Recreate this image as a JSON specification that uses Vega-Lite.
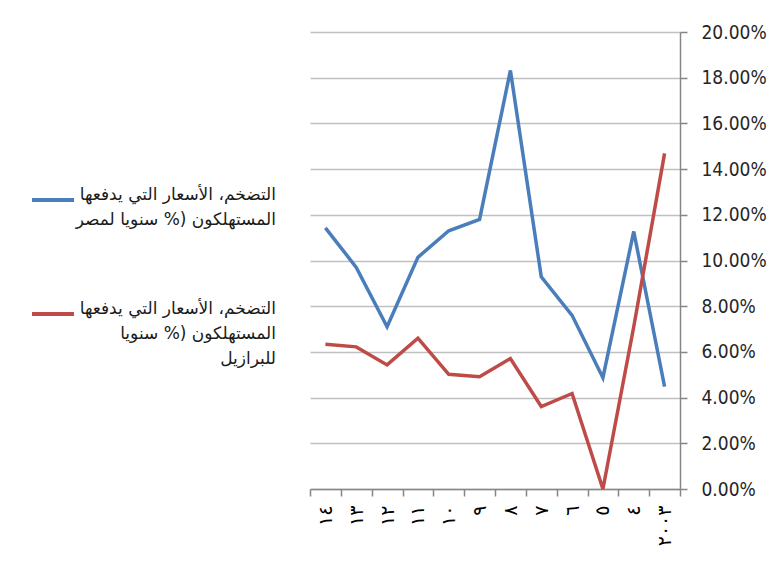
{
  "$schema": "https://vega.github.io/schema/vega-lite/v6.json",
  "width": 370,
  "height": 457,
  "autosize": {"type": "none"},
  "padding": {"left": 310, "top": 32, "right": 98, "bottom": 89},
  "background": "white",
  "config": {"view": {"stroke": null}, "style": {"guide-label": {"lineHeight": 25}}},
  "data": {
    "values": [
      {"year": "١٤", "series": "التضخم، الأسعار التي يدفعها|المستهلكون (% سنويا لمصر", "value": 0.1143},
      {"year": "١٣", "series": "التضخم، الأسعار التي يدفعها|المستهلكون (% سنويا لمصر", "value": 0.0970},
      {"year": "١٢", "series": "التضخم، الأسعار التي يدفعها|المستهلكون (% سنويا لمصر", "value": 0.0710},
      {"year": "١١", "series": "التضخم، الأسعار التي يدفعها|المستهلكون (% سنويا لمصر", "value": 0.1014},
      {"year": "١٠", "series": "التضخم، الأسعار التي يدفعها|المستهلكون (% سنويا لمصر", "value": 0.1130},
      {"year": "٩", "series": "التضخم، الأسعار التي يدفعها|المستهلكون (% سنويا لمصر", "value": 0.1180},
      {"year": "٨", "series": "التضخم، الأسعار التي يدفعها|المستهلكون (% سنويا لمصر", "value": 0.1832},
      {"year": "٧", "series": "التضخم، الأسعار التي يدفعها|المستهلكون (% سنويا لمصر", "value": 0.0929},
      {"year": "٦", "series": "التضخم، الأسعار التي يدفعها|المستهلكون (% سنويا لمصر", "value": 0.0760},
      {"year": "٥", "series": "التضخم، الأسعار التي يدفعها|المستهلكون (% سنويا لمصر", "value": 0.0487},
      {"year": "٤", "series": "التضخم، الأسعار التي يدفعها|المستهلكون (% سنويا لمصر", "value": 0.1127},
      {"year": "٢٠٠٣", "series": "التضخم، الأسعار التي يدفعها|المستهلكون (% سنويا لمصر", "value": 0.0448},
      {"year": "١٤", "series": "التضخم، الأسعار التي يدفعها|المستهلكون (% سنويا|للبرازيل", "value": 0.0633},
      {"year": "١٣", "series": "التضخم، الأسعار التي يدفعها|المستهلكون (% سنويا|للبرازيل", "value": 0.0622},
      {"year": "١٢", "series": "التضخم، الأسعار التي يدفعها|المستهلكون (% سنويا|للبرازيل", "value": 0.0543},
      {"year": "١١", "series": "التضخم، الأسعار التي يدفعها|المستهلكون (% سنويا|للبرازيل", "value": 0.0660},
      {"year": "١٠", "series": "التضخم، الأسعار التي يدفعها|المستهلكون (% سنويا|للبرازيل", "value": 0.0502},
      {"year": "٩", "series": "التضخم، الأسعار التي يدفعها|المستهلكون (% سنويا|للبرازيل", "value": 0.0491},
      {"year": "٨", "series": "التضخم، الأسعار التي يدفعها|المستهلكون (% سنويا|للبرازيل", "value": 0.0571},
      {"year": "٧", "series": "التضخم، الأسعار التي يدفعها|المستهلكون (% سنويا|للبرازيل", "value": 0.0361},
      {"year": "٦", "series": "التضخم، الأسعار التي يدفعها|المستهلكون (% سنويا|للبرازيل", "value": 0.0418},
      {"year": "٥", "series": "التضخم، الأسعار التي يدفعها|المستهلكون (% سنويا|للبرازيل", "value": 0.0},
      {"year": "٤", "series": "التضخم، الأسعار التي يدفعها|المستهلكون (% سنويا|للبرازيل", "value": 0.0710},
      {"year": "٢٠٠٣", "series": "التضخم، الأسعار التي يدفعها|المستهلكون (% سنويا|للبرازيل", "value": 0.1469}
    ]
  },
  "mark": {"type": "line", "strokeWidth": 3.5},
  "encoding": {
    "x": {
      "field": "year",
      "type": "ordinal",
      "sort": null,
      "scale": {"type": "band", "paddingInner": 0, "paddingOuter": 0},
      "axis": {
        "title": null,
        "grid": false,
        "tickBand": "extent",
        "labelAngle": -90,
        "labelAlign": "right",
        "labelBaseline": "middle",
        "labelPadding": 9,
        "labelFontSize": 19,
        "labelFont": "DejaVu Sans",
        "labelColor": "#000000",
        "domainColor": "#868686",
        "domainWidth": 1.5,
        "tickColor": "#868686",
        "tickWidth": 1.5,
        "tickSize": 7
      }
    },
    "y": {
      "field": "value",
      "type": "quantitative",
      "scale": {"domain": [0, 0.2]},
      "axis": {
        "title": null,
        "orient": "right",
        "format": ".2%",
        "values": [0, 0.02, 0.04, 0.06, 0.08, 0.1, 0.12, 0.14, 0.16, 0.18, 0.2],
        "labelFont": "DejaVu Sans Condensed",
        "labelFontSize": 19,
        "labelColor": "#262626",
        "labelPadding": 14,
        "gridColor": "#c0c0c0",
        "gridWidth": 1.5,
        "domainColor": "#868686",
        "domainWidth": 1.5,
        "tickColor": "#868686",
        "tickWidth": 1.5,
        "tickSize": 7
      }
    },
    "color": {
      "field": "series",
      "type": "nominal",
      "scale": {
        "domain": ["التضخم، الأسعار التي يدفعها|المستهلكون (% سنويا لمصر", "التضخم، الأسعار التي يدفعها|المستهلكون (% سنويا|للبرازيل"],
        "range": ["#4a7ebb", "#be4b48"]
      },
      "legend": {
        "orient": "none",
        "legendX": -280,
        "legendY": 145,
        "padding": 0,
        "title": null,
        "symbolType": "stroke",
        "symbolSize": 1764,
        "symbolStrokeWidth": 4,
        "labelExpr": "split(datum.label, '|')",
        "labelFont": "DejaVu Sans",
        "labelFontSize": 17,
        "labelColor": "#1a1a1a",
        "labelAlign": "right",
        "labelOffset": 200,
        "labelLimit": 0,
        "labelBaseline": "alphabetic",
        "rowPadding": 63
      }
    }
  }
}
